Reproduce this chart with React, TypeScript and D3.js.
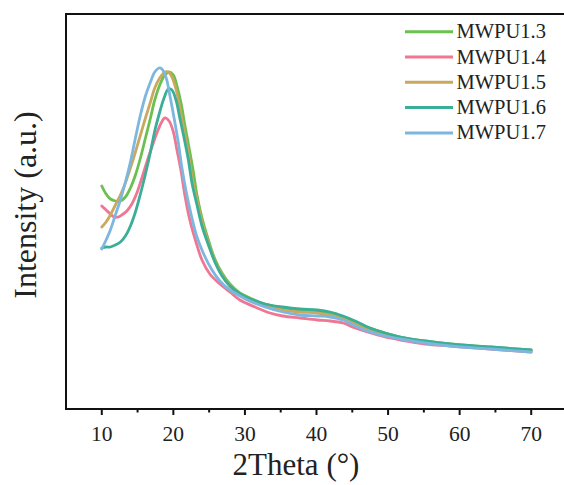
import React from "react";
import * as d3 from "d3";

type Pt = [number, number];

const seriesNames = ["MWPU1.3", "MWPU1.4", "MWPU1.5", "MWPU1.6", "MWPU1.7"];
const seriesColors = ["#6cc04f", "#ee7794", "#c8a95f", "#3aae96", "#7db7e0"];

const mwpu13: Pt[] = [
  [10.0, 223], [10.6, 215], [11.2, 210], [11.9, 208], [12.6, 208], [13.3, 212], [14.0, 221],
  [14.7, 234], [15.4, 251], [16.1, 271], [16.8, 291], [17.4, 309], [18.1, 324], [18.8, 334],
  [19.4, 337], [20.0, 334], [20.5, 323], [21.1, 305], [21.6, 284], [22.2, 261], [22.8, 237],
  [23.3, 214], [24.0, 191], [24.9, 169], [25.8, 150], [26.8, 136], [27.9, 125], [29.3, 116],
  [30.7, 111], [32.8, 105], [35.3, 101], [37.7, 99], [40.1, 98], [41.9, 96], [43.7, 92],
  [45.4, 87], [47.1, 82], [49.6, 76], [51.7, 72], [55.2, 68], [58.7, 65], [64.3, 62], [70.0, 59],
];

const mwpu14: Pt[] = [
  [10.0, 203], [10.6, 199], [11.2, 195], [11.7, 192], [12.3, 192], [12.8, 194], [13.5, 198],
  [14.2, 205], [14.9, 216], [15.6, 231], [16.3, 247], [17.0, 262], [17.7, 276], [18.3, 286],
  [18.8, 291], [19.4, 288], [20.0, 277], [20.5, 259], [21.1, 237], [21.6, 214], [22.3, 189],
  [23.2, 166], [24.0, 149], [25.1, 135], [26.5, 125], [27.9, 117], [29.3, 109], [31.4, 102],
  [33.5, 96], [35.3, 93], [37.7, 91], [40.1, 89], [41.9, 88], [43.7, 86], [45.4, 81],
  [47.1, 77], [49.6, 72], [51.7, 69], [55.2, 65], [58.7, 63], [64.3, 60], [70.0, 57],
];

const mwpu15: Pt[] = [
  [10.0, 182], [10.6, 187], [11.2, 194], [11.9, 204], [12.6, 214], [13.3, 226], [14.0, 241],
  [14.7, 257], [15.4, 274], [16.1, 291], [16.8, 307], [17.4, 321], [18.1, 331], [18.8, 337],
  [19.3, 337], [19.8, 332], [20.4, 319], [20.9, 301], [21.5, 279], [22.1, 256], [22.6, 232],
  [23.3, 209], [24.0, 187], [24.9, 166], [25.8, 148], [26.8, 134], [27.9, 123], [29.3, 114],
  [30.7, 108], [32.8, 103], [35.3, 99], [37.7, 97], [40.1, 96], [41.9, 94], [43.7, 90],
  [45.4, 85], [47.1, 80], [49.6, 74], [51.7, 71], [55.2, 67], [58.7, 64], [64.3, 61], [70.0, 58],
];

const mwpu16: Pt[] = [
  [10.0, 161], [10.6, 162], [11.2, 162], [11.9, 164], [12.6, 167], [13.3, 173], [14.0, 183],
  [14.7, 197], [15.4, 215], [16.1, 235], [16.8, 257], [17.4, 278], [18.1, 297], [18.7, 311],
  [19.3, 320], [19.8, 319], [20.4, 308], [20.9, 291], [21.5, 271], [22.1, 249], [22.6, 226],
  [23.3, 204], [24.0, 183], [24.9, 164], [25.8, 147], [26.8, 133], [27.9, 123], [29.3, 115],
  [30.7, 110], [32.8, 105], [35.3, 102], [37.7, 100], [40.1, 99], [41.9, 97], [43.7, 93],
  [45.4, 88], [47.1, 82], [49.6, 76], [51.7, 72], [55.2, 68], [58.7, 65], [64.3, 62], [70.0, 59],
];

const mwpu17: Pt[] = [
  [10.0, 160], [10.6, 169], [11.2, 179], [11.9, 194], [12.6, 209], [13.3, 227], [14.0, 247],
  [14.7, 271], [15.4, 294], [16.1, 313], [16.8, 327], [17.4, 337], [18.0, 341], [18.4, 340],
  [19.0, 331], [19.5, 314], [20.1, 291], [20.7, 266], [21.2, 241], [21.8, 217], [22.5, 194],
  [23.3, 172], [24.3, 154], [25.4, 139], [26.5, 128], [27.9, 119], [29.3, 113], [30.7, 108],
  [32.8, 102], [35.3, 97], [37.7, 94], [40.1, 93], [41.9, 92], [43.7, 89], [45.4, 83],
  [47.1, 78], [49.6, 73], [51.7, 70], [55.2, 66], [58.7, 63], [64.3, 60], [70.0, 57],
];

const allSeries = [mwpu13, mwpu14, mwpu15, mwpu16, mwpu17];

const majorTicks = [10, 20, 30, 40, 50, 60, 70];
const minorTicks = [15, 25, 35, 45, 55, 65];

const xTitle = "2Theta (°)";
const yTitle = "Intensity (a.u.)";

export default function App() {
  const W = 564;
  const H = 485;
  const left = 66;
  const right = 567;
  const top = 14;
  const bottom = 409;

  const x = d3.scaleLinear().domain([5, 75]).range([left, right]);
  const y = d3.scaleLinear().domain([0, 395]).range([bottom, top]);

  const line = d3
    .line<Pt>()
    .x((d) => x(d[0]))
    .y((d) => y(d[1]))
    .curve(d3.curveCatmullRom.alpha(0.5));

  const font = "'Liberation Serif', 'Times New Roman', serif";

  return (
    <svg
      width={W}
      height={H}
      style={{ position: "absolute", left: 0, top: 0, background: "#fff" }}
      fontFamily={font}
    >
      <rect x={0} y={0} width={W} height={H} fill="#fff" />
      {allSeries.map((s, i) => (
        <path
          key={seriesNames[i]}
          d={line(s) || ""}
          fill="none"
          stroke={seriesColors[i]}
          strokeWidth={2.8}
          strokeLinejoin="round"
          strokeLinecap="round"
        />
      ))}
      <rect
        x={left}
        y={top}
        width={right - left}
        height={bottom - top}
        fill="none"
        stroke="#111"
        strokeWidth={2}
      />
      {majorTicks.map((t) => (
        <g key={"M" + t}>
          <line x1={x(t)} x2={x(t)} y1={bottom} y2={bottom + 6} stroke="#111" strokeWidth={2} />
          <text x={x(t)} y={441} textAnchor="middle" fontSize={21.5} fill="#222">
            {t}
          </text>
        </g>
      ))}
      {minorTicks.map((t) => (
        <line key={"m" + t} x1={x(t)} x2={x(t)} y1={bottom} y2={bottom + 3.5} stroke="#111" strokeWidth={2} />
      ))}
      <text x={296} y={475} textAnchor="middle" fontSize={31} fill="#222">
        {xTitle}
      </text>
      <text
        transform={`translate(36,205) rotate(-90)`}
        textAnchor="middle"
        fontSize={32}
        fill="#222"
      >
        {yTitle}
      </text>
      {seriesNames.map((n, i) => {
        const ly = 31.7 + i * 25.3;
        return (
          <g key={n}>
            <line x1={405} x2={453} y1={ly} y2={ly} stroke={seriesColors[i]} strokeWidth={3} />
            <text x={456.5} y={ly + 6.5} fontSize={20.5} fill="#222">
              {n}
            </text>
          </g>
        );
      })}
    </svg>
  );
}
